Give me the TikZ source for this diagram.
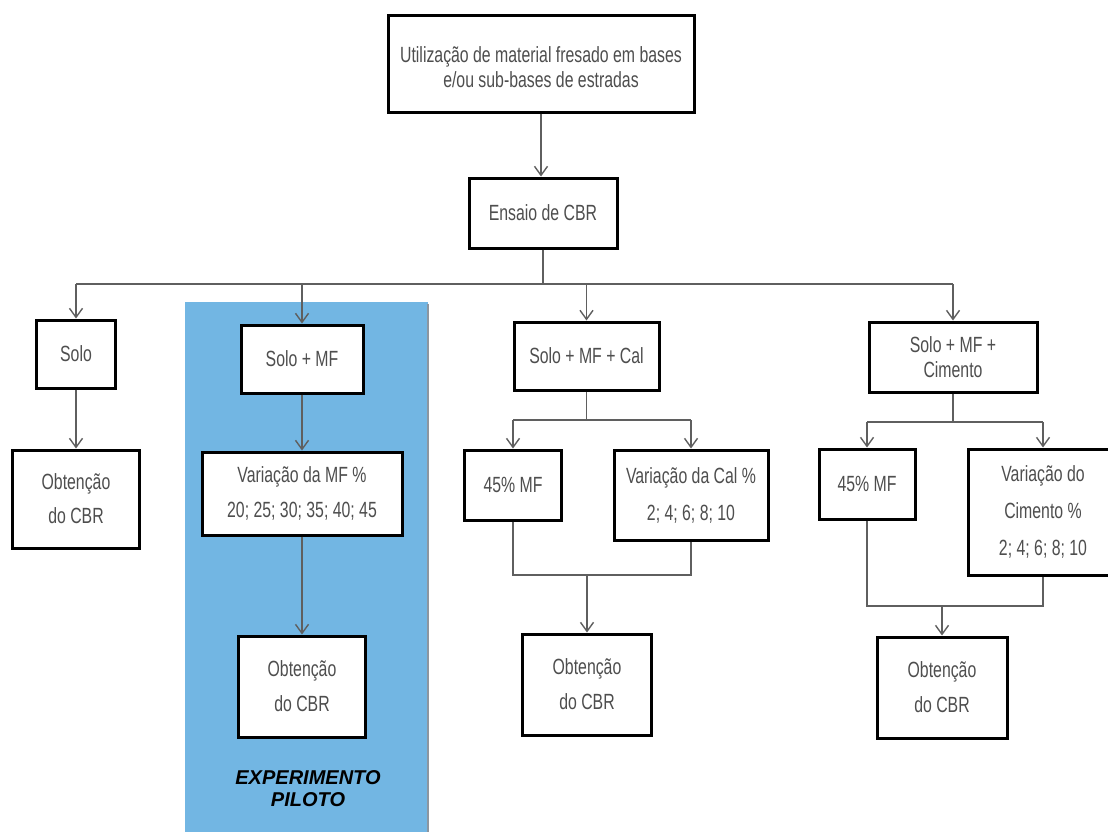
\documentclass[tikz,border=0pt]{standalone}
\usepackage{fontspec}
\setmainfont{Liberation Sans}[FakeStretch=0.72]
\newfontfamily\pilotfont{Liberation Sans}
\usetikzlibrary{arrows.meta}
\definecolor{pilotblue}{RGB}{114,182,227}
\definecolor{pilotedge}{RGB}{140,150,160}
\definecolor{txtgray}{RGB}{78,78,78}
\definecolor{linegray}{RGB}{95,95,95}

\begin{document}
\begin{tikzpicture}[x=1pt,y=-1pt,
  box/.style={draw=black, line width=3pt, fill=white, text=txtgray,
    align=center, inner sep=0pt, font=\fontsize{22}{35}\selectfont},
  link/.style={draw=linegray, line width=1.4pt},
  arr/.style={link, -{Straight Barb[length=9pt,width=13pt]}},
]
\useasboundingbox (0,0) rectangle (1108,831);

% shaded band for the pilot experiment
\fill[pilotblue] (185,302) rectangle (428,840);
\draw[pilotedge, line width=1.5pt] (428,304) -- (428,840);

% boxes
\node[box, minimum width=306pt, minimum height=97pt] (top) at (541,63.5) {};
\node[text=txtgray, align=center, font=\fontsize{22}{25}\selectfont] (toptext) at (541,67)
  {Utilização de material fresado em bases\\e/ou sub-bases de estradas};
\node[box, minimum width=148pt, minimum height=70pt] (ensaio) at (543,213) {Ensaio de CBR};

\node[box, minimum width=79pt, minimum height=68pt] (solo) at (76,354) {Solo};
\node[box, minimum width=127pt, minimum height=98pt, font=\fontsize{22}{34}\selectfont] (obt1) at (76,499) {Obtenção\\do CBR};

\node[box, minimum width=122pt, minimum height=68pt] (solomf) at (302,359) {Solo + MF};
\node[box, minimum width=200pt, minimum height=83pt] (varmf) at (302,493.5)
  {Variação da MF \%\\20; 25; 30; 35; 40; 45};
\node[box, minimum width=127pt, minimum height=101pt] (obt2) at (302,686.5) {Obtenção\\do CBR};
\node[font=\pilotfont\bfseries\itshape\fontsize{20}{22}\selectfont, align=center, text=black] (pilot) at (308,789)
  {EXPERIMENTO\\PILOTO};

\node[box, minimum width=145pt, minimum height=68pt] (solocal) at (586.5,356) {Solo + MF + Cal};
\node[box, minimum width=97pt, minimum height=70pt] (mfa) at (513,485) {45\% MF};
\node[box, minimum width=154pt, minimum height=90pt, font=\fontsize{22}{37}\selectfont] (varcal) at (691,495)
  {Variação da Cal \%\\2; 4; 6; 8; 10};
\node[box, minimum width=129pt, minimum height=101pt] (obt3) at (587,684.5) {Obtenção\\do CBR};

\node[box, minimum width=168pt, minimum height=70pt, font=\fontsize{22}{25}\selectfont] (solocim) at (953,357)
  {Solo + MF +\\Cimento};
\node[box, minimum width=96pt, minimum height=70pt] (mfb) at (867,484) {45\% MF};
\node[box, minimum width=150pt, minimum height=126pt, font=\fontsize{22}{37}\selectfont] (varcim) at (1043,512)
  {Variação do\\Cimento \%\\2; 4; 6; 8; 10};
\node[box, minimum width=130pt, minimum height=101pt] (obt4) at (942,687.5) {Obtenção\\do CBR};

% junction levels
\coordinate (bus) at (0,284);
\coordinate (calsplit) at (0,420);
\coordinate (calmerge) at (0,575);
\coordinate (cimsplit) at (0,422);
\coordinate (cimmerge) at (0,606);

% top of the tree
\draw[arr] (top.south) -- (top.south |- ensaio.north);
\draw[link] (ensaio.south) -- (ensaio.south |- bus);
\draw[link] (solo.north |- bus) -- (solocim.north |- bus);
\draw[arr] (solo.north |- bus) -- (solo.north);
\draw[arr] (solomf.north |- bus) -- (solomf.north);
\draw[arr] (solocal.north |- bus) -- (solocal.north);
\draw[arr] (solocim.north |- bus) -- (solocim.north);

% soil only
\draw[arr] (solo) -- (obt1);

% soil + milled material
\draw[arr] (solomf) -- (varmf);
\draw[arr] (varmf) -- (obt2);

% soil + milled material + lime
\draw[link] (solocal.south) -- (solocal.south |- calsplit);
\draw[link] (mfa.north |- calsplit) -- (varcal.north |- calsplit);
\draw[arr] (mfa.north |- calsplit) -- (mfa.north);
\draw[arr] (varcal.north |- calsplit) -- (varcal.north);
\draw[link] (mfa.south) -- (mfa.south |- calmerge) -- (varcal.south |- calmerge) -- (varcal.south);
\draw[arr] (obt3.north |- calmerge) -- (obt3.north);

% soil + milled material + cement
\draw[link] (solocim.south) -- (solocim.south |- cimsplit);
\draw[link] (mfb.north |- cimsplit) -- (varcim.north |- cimsplit);
\draw[arr] (mfb.north |- cimsplit) -- (mfb.north);
\draw[arr] (varcim.north |- cimsplit) -- (varcim.north);
\draw[link] (mfb.south) -- (mfb.south |- cimmerge) -- (varcim.south |- cimmerge) -- (varcim.south);
\draw[arr] (obt4.north |- cimmerge) -- (obt4.north);
\end{tikzpicture}
\end{document}
